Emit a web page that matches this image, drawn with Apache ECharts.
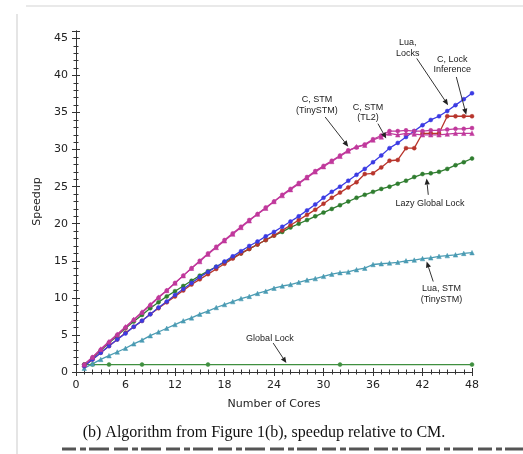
<!DOCTYPE html>
<html><head><meta charset="utf-8">
<script src="https://cdn.jsdelivr.net/npm/echarts@6/dist/echarts.min.js"></script>
<style>html,body{margin:0;padding:0;background:#fff;}#c{width:523px;height:454px;}</style>
</head><body><div id="c"></div>
<script>
var cores = [1,2,3,4,5,6,7,8,9,10,11,12,13,14,15,16,17,18,19,20,21,22,23,24,25,26,27,28,29,30,31,32,33,34,35,36,37,38,39,40,41,42,43,44,45,46,47,48];
var cStmTiny = [1.0,2.0,3.0,4.0,5.0,6.0,7.0,8.0,9.0,10.0,11.0,12.0,13.0,14.0,15.0,16.0,16.9,17.8,18.7,19.6,20.5,21.3,22.2,23.0,23.9,24.7,25.5,26.3,27.1,27.8,28.5,29.2,29.9,30.3,30.7,31.4,31.9,32.5,32.5,32.6,32.5,32.5,32.6,32.6,32.7,32.8,32.8,32.9];
var cStmTL2 = [1.0,2.0,3.1,4.1,5.1,6.1,7.1,8.1,9.1,10.1,11.0,12.0,13.0,14.0,14.9,15.9,16.8,17.7,18.6,19.5,20.4,21.3,22.1,23.0,23.8,24.6,25.4,26.2,27.0,27.7,28.4,29.1,29.8,30.4,30.6,31.3,31.7,32.2,32.0,32.2,32.1,32.0,32.0,32.0,32.1,32.2,32.2,32.2];
var luaLocks = [0.8,1.7,2.6,3.5,4.4,5.2,6.1,6.9,7.8,8.7,9.5,10.4,11.2,12.0,12.8,13.5,14.2,14.9,15.6,16.3,17.0,17.6,18.3,18.9,19.6,20.3,21.0,21.8,22.6,23.5,24.3,25.0,25.8,26.6,27.4,28.3,29.2,30.2,30.9,31.7,32.5,33.3,34.0,34.5,35.2,36.0,36.8,37.6];
var cLockInf = [0.8,1.7,2.6,3.5,4.4,5.3,6.1,6.9,7.8,8.6,9.4,10.2,11.0,11.8,12.5,13.2,13.9,14.6,15.3,16.0,16.6,17.2,17.8,18.4,19.1,19.8,20.5,21.2,21.9,22.7,23.5,24.2,24.9,25.6,26.7,26.8,27.6,28.5,28.6,30.2,30.2,32.2,32.2,32.2,34.5,34.5,34.5,34.5];
var lazyGlobal = [1.0,1.9,2.9,3.9,4.9,5.9,6.8,7.7,8.6,9.4,10.2,10.9,11.6,12.3,13.0,13.6,14.2,14.8,15.4,16.0,16.6,17.2,17.8,18.4,18.9,19.5,20.0,20.5,21.0,21.5,22.0,22.5,23.0,23.5,23.9,24.3,24.7,25.0,25.4,25.8,26.3,26.7,26.8,27.0,27.4,27.9,28.3,28.8];
var luaStm = [0.5,1.1,1.7,2.2,2.7,3.2,3.8,4.3,4.9,5.4,5.9,6.4,6.9,7.3,7.8,8.2,8.7,9.1,9.5,9.9,10.2,10.6,10.9,11.3,11.6,11.8,12.1,12.4,12.6,12.9,13.2,13.4,13.5,13.8,14.0,14.5,14.6,14.7,14.8,15.0,15.1,15.3,15.4,15.6,15.7,15.8,16.0,16.1];
var globalCores = [1,2,4,8,16,32,48];
var globalLock = [1.0,1.0,1.0,1.0,1.0,1.0,1.0];
var xTicks = [0,6,12,18,24,30,36,42,48];
var yTicks = [0,5,10,15,20,25,30,35,40,45];

function pairs(xs, ys){ return xs.map(function(x,i){return [x, ys[i]];}); }

var chart = echarts.init(document.getElementById('c'), null, {renderer:'canvas'});
var labelFont = {fontFamily:'DejaVu Sans', fontSize:11, color:'#222'};
function mkX(inside, show){
  return {type:'value', min:0, max:48, interval:6, position:'bottom',
    axisLine:{show:true, onZero:false, lineStyle:{color:'#333', width:1}},
    axisTick:{show:true, inside:inside, length:4, lineStyle:{color:'#333'}},
    minorTick:{show:true, splitNumber:6, length:2.5, lineStyle:{color:'#333'}},
    axisLabel:Object.assign({show:show, margin:8}, labelFont),
    splitLine:{show:false},
    name: show ? 'Number of Cores' : '', nameLocation:'middle', nameGap:27,
    nameTextStyle:{fontFamily:'DejaVu Sans', fontSize:11, color:'#222'}};
}
function mkY(inside, show){
  return {type:'value', min:0, max:46, interval:5, position:'left',
    axisLine:{show:true, onZero:false, lineStyle:{color:'#333', width:1}},
    axisTick:{show:true, inside:inside, length:4, lineStyle:{color:'#333'}},
    minorTick:{show:true, splitNumber:5, length:2.5, lineStyle:{color:'#333'}},
    axisLabel:Object.assign({show:show, margin:8, formatter:function(v){return yTicks.indexOf(v)>=0 ? String(v) : '';}}, labelFont),
    splitLine:{show:false},
    name: show ? 'Speedup' : '', nameLocation:'middle', nameGap:33,
    nameTextStyle:{fontFamily:'DejaVu Sans', fontSize:11, color:'#222'}};
}
function ser(name, xs, ys, color, symbol, size){
  return {name:name, type:'line', data:pairs(xs, ys), xAxisIndex:0, yAxisIndex:0,
    symbol:symbol, symbolSize:size, showSymbol:true,
    lineStyle:{color:color, width:1.3}, itemStyle:{color:color, borderColor:color, borderWidth:0.5},
    animation:false, z:3};
}
var option = {
  animation:false,
  grid:{left:76, right:51, top:31, bottom:82, containLabel:false},
  xAxis:[mkX(false, true), mkX(true, false)],
  yAxis:[mkY(false, true), mkY(true, false)],
  series:[
    ser('Global Lock', globalCores, globalLock, '#3f8f3f', 'circle', 4),
    ser('Lua, STM (TinySTM)', cores, luaStm, '#4a9bb3', 'triangle', 4.5),
    ser('Lazy Global Lock', cores, lazyGlobal, '#2f7d2f', 'circle', 4),
    ser('C, Lock Inference', cores, cLockInf, '#b8352c', 'circle', 4),
    ser('Lua, Locks', cores, luaLocks, '#3b3be3', 'circle', 4),
    ser('C, STM (TL2)', cores, cStmTL2, '#c0399c', 'triangle', 4.5),
    ser('C, STM (TinySTM)', cores, cStmTiny, '#c0399c', 'circle', 4)
  ]
};
chart.setOption(option);

// annotations: [text lines, text anchor (data), arrow start (data), arrow tip (data)]
var notes = [
  ['Lua,\nLocks', [40.2,43.7], [41.3,42.3], [45.1,36.0]],
  ['C, Lock\nInference', [45.6,41.5], [46.1,39.8], [47.3,34.7]],
  ['C, STM\n(TinySTM)', [29.2,36.0], [30.2,34.4], [33.0,30.4]],
  ['C, STM\n(TL2)', [35.4,35.0], [36.6,33.5], [37.6,31.5]],
  ['Lazy Global Lock', [42.9,22.7], [42.7,23.9], [42.5,26.1]],
  ['Lua, STM\n(TinySTM)', [44.3,10.5], [43.3,12.2], [42.5,14.9]],
  ['Global Lock', [23.5,4.5], [23.9,3.9], [25.5,1.2]]
];
var g = [];
notes.forEach(function(n){
  var t = chart.convertToPixel({gridIndex:0}, n[1]);
  var a = chart.convertToPixel({gridIndex:0}, n[2]);
  var b = chart.convertToPixel({gridIndex:0}, n[3]);
  g.push({type:'text', x:t[0], y:t[1], z:10, style:{text:n[0], fontFamily:'Liberation Sans', fontSize:9, fill:'#222', align:'center', verticalAlign:'middle', lineHeight:10.5}});
  var dx=b[0]-a[0], dy=b[1]-a[1], L=Math.sqrt(dx*dx+dy*dy), ux=dx/L, uy=dy/L;
  var hl=6, hw=2.6;
  var bx=b[0]-ux*hl, by=b[1]-uy*hl;
  g.push({type:'line', z:10, shape:{x1:a[0], y1:a[1], x2:bx, y2:by}, style:{stroke:'#333', lineWidth:1}});
  g.push({type:'polygon', z:10, shape:{points:[[b[0],b[1]],[bx-uy*hw,by+ux*hw],[bx+uy*hw,by-ux*hw]]}, style:{fill:'#222'}});
});
// caption and page edges
g.push({type:'text', x:264, y:433, z:10, style:{text:'(b) Algorithm from Figure 1(b), speedup relative to CM.', fontFamily:'Liberation Serif', fontSize:16, fill:'#111', align:'center', verticalAlign:'middle'}});
g.push({type:'line', shape:{x1:17, y1:14, x2:17, y2:454}, style:{stroke:'#ddd', lineWidth:1.5}});
g.push({type:'line', shape:{x1:26, y1:6, x2:523, y2:6}, style:{stroke:'#e2e2e2', lineWidth:1.5}});
g.push({type:'line', shape:{x1:62, y1:449, x2:523, y2:449}, style:{stroke:'#555', lineWidth:3, lineDash:[14,4,6,3,20,5]}});
chart.setOption({graphic:g});
</script></body></html>
